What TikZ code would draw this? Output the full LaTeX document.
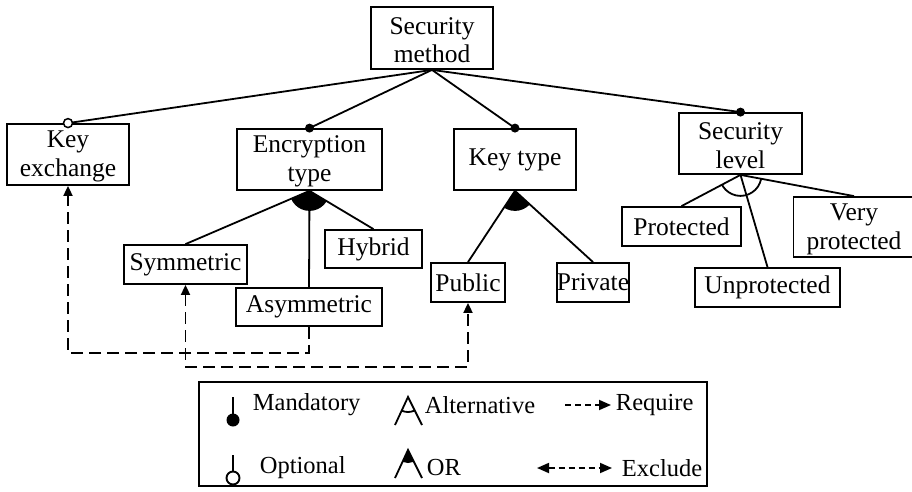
\documentclass[tikz,border=0pt]{standalone}
\usepackage{fontspec}
\setmainfont{Liberation Serif}
\usetikzlibrary{arrows.meta,calc}

% strut that gives the first line of a two-line box a little headroom
\newcommand{\toprow}{\rule{0pt}{21pt}}

\begin{document}
\begin{tikzpicture}[x=1pt,y=-1pt,line width=1.8pt,
  feat/.style={draw,inner sep=0pt,align=center,font=\fontsize{25.5}{28.5}\selectfont},
  legtext/.style={anchor=west,inner sep=0pt,font=\fontsize{24.5}{29}\selectfont},
  req/.style={dash pattern=on 12pt off 6pt,-{Triangle[length=10pt,width=9pt]}},
  exc/.style={dash pattern=on 12pt off 6pt,{Triangle[length=10pt,width=9pt]}-{Triangle[length=10pt,width=9pt]}},
  legreq/.style={dash pattern=on 6pt off 4pt,-{Triangle[length=12pt,width=10pt]}},
  legexc/.style={dash pattern=on 6pt off 4pt,{Triangle[length=12pt,width=10pt]}-{Triangle[length=12pt,width=10pt]}},
  mand/.style={fill=black},
  opt/.style={draw,fill=white,line width=1.5pt}]
\useasboundingbox (0,0) rectangle (912,492);

% features
\node[feat,minimum width=122pt,minimum height=62pt] (sm) at (432,38) {\toprow Security\\method};
\node[feat,minimum width=122pt,minimum height=61pt] (ke) at (68,154.5) {\toprow Key\\exchange};
\node[feat,minimum width=145pt,minimum height=61pt] (et) at (309.5,159.5) {\toprow Encryption\\type};
\node[feat,minimum width=122pt,minimum height=61pt] (kt) at (515,159.5) {Key type};
\node[feat,minimum width=123pt,minimum height=61pt] (sl) at (740.5,143.5) {\toprow Security\\level};
\node[feat,minimum width=97pt,minimum height=38pt] (hy) at (373.5,249) {Hybrid};
\node[feat,minimum width=123pt,minimum height=39pt] (sy) at (185.5,264.5) {Symmetric};
\node[feat,minimum width=146pt,minimum height=38pt] (as) at (309,307) {Asymmetric};
\node[feat,minimum width=74pt,minimum height=39pt] (pu) at (468,282.5) {Public};
\node[feat,minimum width=72pt,minimum height=39pt] (pr) at (593,282.5) {Private};
\node[feat,minimum width=119pt,minimum height=39pt] (pt) at (681.5,226.5) {Protected};
\node[feat,minimum width=145pt,minimum height=39pt] (up) at (767.5,287.5) {Unprotected};
\node[feat,minimum width=121pt,minimum height=60pt] (vp) at (854,227) {\toprow Very\\protected};

% root decomposition
\draw (sm.south) -- (ke.north);
\draw (sm.south) -- (et.north);
\draw (sm.south) -- (kt.north);
\draw (sm.south) -- (sl.north);
\draw[opt] (ke.north) circle (4.5pt);
\fill[mand] (et.north) circle (4.5pt);
\fill[mand] (kt.north) circle (4.5pt);
\fill[mand] (sl.north) circle (4.5pt);

% encryption type: OR group
\draw (et.south) -- (sy.north);
\draw (et.south) -- (as.north);
\draw (et.south) -- (hy.north);
\begin{scope}
  \clip (et.south) -- (sy.north) -- (hy.north) -- cycle;
  \fill (et.south) circle (20pt);
\end{scope}

% key type: OR group
\draw (kt.south) -- (pu.north);
\draw (kt.south) -- (pr.north);
\begin{scope}
  \clip (kt.south) -- (pu.north) -- (pr.north) -- cycle;
  \fill (kt.south) circle (20pt);
\end{scope}

% security level: alternative group
\draw (sl.south) -- (pt.north);
\draw (sl.south) -- (up.north);
\draw (sl.south) -- (vp.north);
\begin{scope}
  \clip (sl.south) -- (pt.north) -- (vp.north) -- cycle;
  \draw (sl.south) circle (21pt);
\end{scope}

% cross-tree constraints
\draw[req] (as.south) -- ++(0,26) -| (ke.south);
\draw[exc] (sy.south) -- ++(0,82) -| (pu.south);

% legend
\node[draw,minimum width=508pt,minimum height=104pt,inner sep=0pt] (leg) at (453,434) {};

\coordinate (m1) at (233,397);
\coordinate (m2) at (233,420);
\draw (m1) -- (m2);
\fill[mand] (m2) circle (6.5pt);
\node[legtext] (lmand) at (252,405) {Mandatory};

\coordinate (o1) at (233,455);
\coordinate (o2) at (233,478);
\draw ($(o2)+(0,-6.5)$) -- (o1);
\draw[opt,line width=1.9pt] (o2) circle (6.5pt);
\node[legtext] (lopt) at (259,468) {Optional};

\coordinate (a0) at (408,397);
\coordinate (a1) at (395,425);
\coordinate (a2) at (422,425);
\draw (a1) -- (a0) -- (a2);
\begin{scope}
  \clip (a0) -- (a1) -- (a2) -- cycle;
  \draw (a0) circle (15pt);
\end{scope}
\node[legtext] (lalt) at (424,405) {Alternative};

\coordinate (b0) at (408,450);
\coordinate (b1) at (395,478);
\coordinate (b2) at (422,478);
\draw (b1) -- (b0) -- (b2);
\begin{scope}
  \clip (b0) -- (b1) -- (b2) -- cycle;
  \fill (b0) circle (13pt);
\end{scope}
\node[legtext] (lor) at (426,468) {OR};

\coordinate (r1) at (565,405);
\coordinate (r2) at (611,405);
\draw[legreq] (r1) -- (r2);
\node[legtext] (lreq) at (615,405) {Require};

\coordinate (e1) at (537,468);
\coordinate (e2) at (612,468);
\draw[legexc] (e1) -- (e2);
\node[legtext] (lexc) at (621,468) {Exclude};
\end{tikzpicture}
\end{document}
